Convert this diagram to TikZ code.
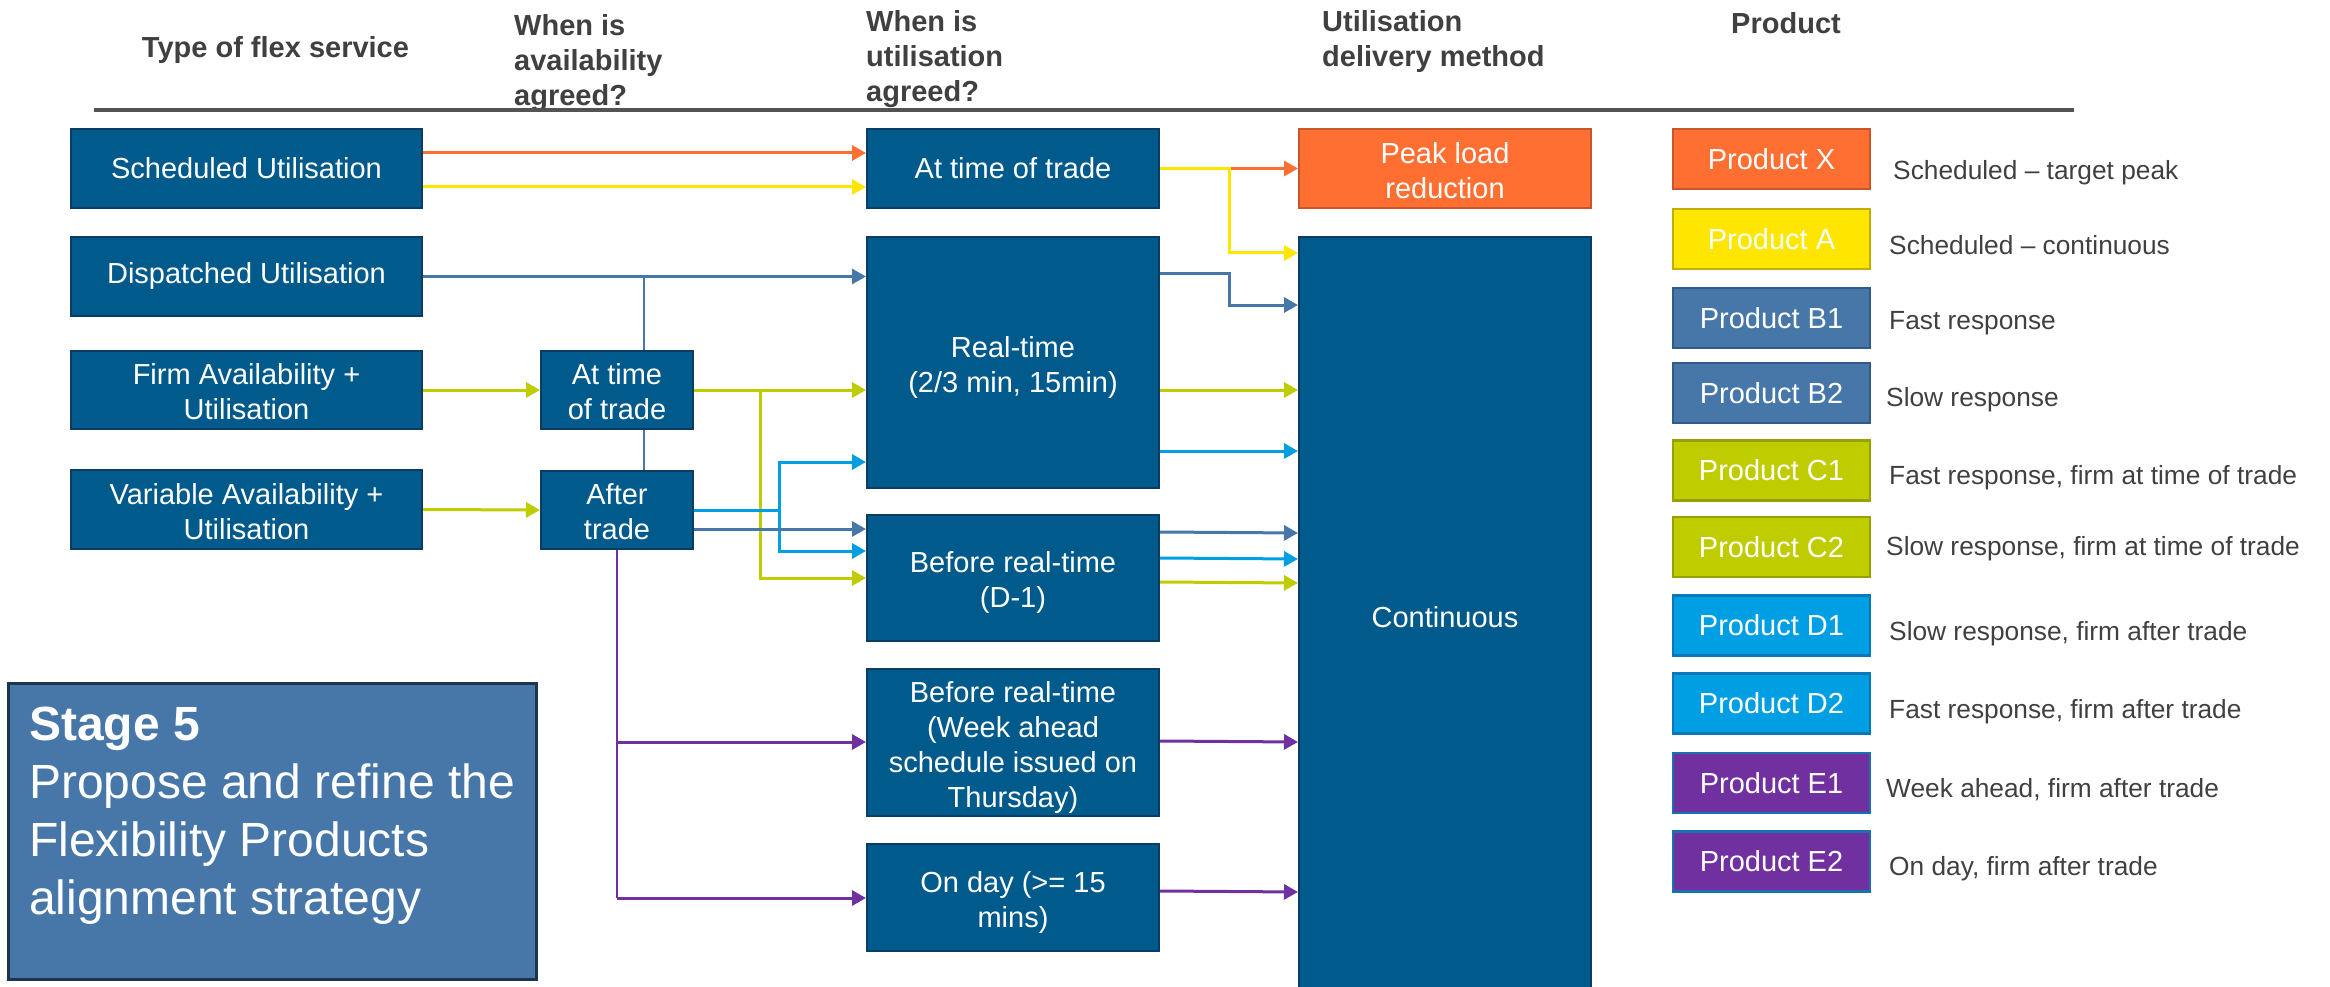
\documentclass[tikz,border=0pt]{standalone}
\usepackage{fontspec}
\setmainfont{Liberation Sans}
\usetikzlibrary{arrows.meta}
\definecolor{boxfill}{HTML}{005A8C}
\definecolor{boxline}{HTML}{0B3C63}
\definecolor{cOr}{HTML}{FF6F31}
\definecolor{cOrL}{HTML}{C8562A}
\definecolor{cYe}{HTML}{FFE600}
\definecolor{cYeL}{HTML}{C2AE00}
\definecolor{cB}{HTML}{4677A8}
\definecolor{cBL}{HTML}{2E5B88}
\definecolor{cC}{HTML}{BFCC00}
\definecolor{cCL}{HTML}{97A100}
\definecolor{cD}{HTML}{009FE3}
\definecolor{cDL}{HTML}{0A78B8}
\definecolor{cE}{HTML}{7030A0}
\definecolor{cEL}{HTML}{1A6FB0}
\definecolor{hdr}{HTML}{404040}
\definecolor{stageline}{HTML}{1E3550}
\newcommand{\topstrut}{\rule{0pt}{31pt}}
\newcommand{\botstrut}{\rule[-6.2pt]{0pt}{6.2pt}}
\begin{document}
\begin{tikzpicture}[x=1pt,y=-1pt,
  box/.style={draw=boxline, line width=2pt, fill=boxfill, text=white, align=center, inner sep=0pt, font=\fontsize{29}{35}\selectfont},
  prod/.style={line width=2.5pt, text=white, inner sep=0pt, minimum width=197pt, minimum height=60pt, font=\fontsize{29}{35}\selectfont},
  desc/.style={anchor=west, text=hdr, inner sep=0pt, font=\fontsize{26.3}{31}\selectfont},
  hd/.style={text=hdr, inner sep=0pt, font=\bfseries\fontsize{29}{35}\selectfont, align=left},
  arr/.style={line width=3pt, -{Triangle[length=14pt,width=15pt]}},
  thin/.style={line width=2pt},
  ]
\useasboundingbox (0,0) rectangle (2330,987);

% headers
\node[hd] (h1) at (275.5,50) {Type of flex service};
\node[hd, anchor=west] (h2) at (514,63.5) {When is\\availability\\agreed?};
\node[hd, anchor=west] (h3) at (866,59.5) {When is\\utilisation\\agreed?};
\node[hd, anchor=west] (h4) at (1322,41.5) {Utilisation\\delivery method};
\node[hd] (h5) at (1786,23) {Product};
\coordinate (hlA) at (94,110);
\coordinate (hlB) at (2074,110);
\draw[line width=4pt, color=hdr!90] (hlA) -- (hlB);

% left column
\node[box, minimum width=351pt, minimum height=79pt] (sched) at (246.5,168.5) {Scheduled Utilisation};
\node[box, minimum width=351pt, minimum height=79pt] (disp) at (246.5,276.5) {Dispatched Utilisation};
\node[box, minimum width=351pt, minimum height=78pt] (firm) at (246.5,390) {\topstrut Firm Availability +\\Utilisation\botstrut};
\node[box, minimum width=351pt, minimum height=79pt] (var) at (246.5,509.5) {\topstrut Variable Availability +\\Utilisation\botstrut};

% thin blue connector behind middle boxes
\draw[cB, thin] (644,276.5) -- (644,351);
\draw[cB, thin] (644,429) -- (644,471);

% middle column
\node[box, minimum width=152pt, minimum height=78pt] (atmid) at (617,390) {\topstrut At time\\of trade\botstrut};
\node[box, minimum width=152pt, minimum height=78pt] (after) at (617,510) {\topstrut After\\trade\botstrut};

% third column
\node[box, minimum width=292pt, minimum height=79pt] (attime) at (1013,168.5) {At time of trade};
\node[box, minimum width=292pt, minimum height=251pt] (realtime) at (1013,362.5) {\topstrut Real-time\\(2/3 min, 15min)\botstrut};
\node[box, minimum width=292pt, minimum height=126pt] (d1) at (1013,578) {\topstrut Before real-time\\(D-1)\botstrut};
\node[box, minimum width=292pt, minimum height=147pt] (week) at (1013,742.5) {\topstrut Before real-time\\(Week ahead\\schedule issued on\\Thursday)\botstrut};
\node[box, minimum width=292pt, minimum height=107pt] (onday) at (1013,897.5) {\topstrut On day (>= 15\\mins)\botstrut};

% fourth column
\node[box, draw=cOrL, fill=cOr, minimum width=292pt, minimum height=79pt] (peak) at (1445,168.5) {\topstrut Peak load\\reduction\botstrut};
\node[box, minimum width=292pt, minimum height=760pt] (cont) at (1445,617) {Continuous};

% products
\node[prod, draw=cOrL, fill=cOr] (pX) at (1771.5,159) {Product X};
\node[prod, draw=cYeL, fill=cYe] (pA) at (1771.5,239) {Product A};
\node[prod, draw=cBL, fill=cB] (pB1) at (1771.5,318) {Product B1};
\node[prod, draw=cBL, fill=cB] (pB2) at (1771.5,393) {Product B2};
\node[prod, draw=cCL, fill=cC] (pC1) at (1771.5,470.5) {Product C1};
\node[prod, draw=cCL, fill=cC] (pC2) at (1771.5,547) {Product C2};
\node[prod, draw=cDL, fill=cD] (pD1) at (1771.5,625.5) {Product D1};
\node[prod, draw=cDL, fill=cD] (pD2) at (1771.5,703.5) {Product D2};
\node[prod, draw=cEL, fill=cE] (pE1) at (1771.5,783) {Product E1};
\node[prod, draw=cEL, fill=cE] (pE2) at (1771.5,861.5) {Product E2};

\node[desc] (dX) at (1893,173) {Scheduled – target peak};
\node[desc] (dA) at (1889,245) {Scheduled – continuous};
\node[desc] (dB1) at (1889,323) {Fast response};
\node[desc] (dB2) at (1886,400) {Slow response};
\node[desc] (dC1) at (1889,478) {Fast response, firm at time of trade};
\node[desc] (dC2) at (1886,549) {Slow response, firm at time of trade};
\node[desc] (dD1) at (1889,634) {Slow response, firm after trade};
\node[desc] (dD2) at (1889,712) {Fast response, firm after trade};
\node[desc] (dE1) at (1886,790) {Week ahead, firm after trade};
\node[desc] (dE2) at (1889,869) {On day, firm after trade};

% stage box
\node[draw=stageline, line width=3pt, fill=cB, minimum width=528pt, minimum height=296pt] (stage) at (272,831) {};
\node[anchor=north west, text=white, align=left, inner sep=0pt, font=\fontsize{48}{58}\selectfont] (stagetxt) at (29,707) {\textbf{Stage 5}\\Propose and refine the\\Flexibility Products\\alignment strategy};

% connectors
\draw[arr, cOr] (sched.east |- 0,153) -- (attime.west |- 0,153);
\draw[arr, cYe] (sched.east |- 0,187) -- (attime.west |- 0,187);
\draw[arr, cB] (disp.east) -- (realtime.west |- disp.east);
\draw[arr, cOr] (attime.east) -- (peak.west);
\draw[arr, cYe] (attime.east) -- (1229,168.5) -- (1229,253) -- (cont.west |- 0,253);
\draw[arr, cB] (realtime.east |- 0,274) -- (1229,274) -- (1229,305) -- (cont.west |- 0,305);
\draw[arr, cC] (realtime.east |- 0,390) -- (cont.west |- 0,390);
\draw[arr, cD] (realtime.east |- 0,451) -- (cont.west |- 0,451);
\draw[arr, cC] (firm.east) -- (atmid.west);
\draw[arr, cC] (var.east) -- (after.west);
\draw[arr, cC] (atmid.east) -- (realtime.west |- atmid.east);
\draw[arr, cC] (760,390) -- (760,578) -- (d1.west |- 0,578);
\draw[line width=3pt, cD] (after.east |- 0,510) -- (779,510);
\draw[arr, cD] (779,510) -- (779,462) -- (realtime.west |- 0,462);
\draw[arr, cD] (779,510) -- (779,551) -- (d1.west |- 0,551);
\draw[arr, cB] (after.east |- 0,529) -- (d1.west |- 0,529);
\draw[arr, cB] (d1.east |- 0,532) -- (cont.west |- 0,533);
\draw[arr, cD] (d1.east |- 0,558) -- (cont.west |- 0,559);
\draw[arr, cC] (d1.east |- 0,582) -- (cont.west |- 0,583);
\draw[thin, cE] (after.south) -- (617,898);
\draw[arr, cE] (617,742) -- (week.west |- 0,742);
\draw[arr, cE] (617,898) -- (onday.west |- 0,898);
\draw[arr, cE] (week.east |- 0,741) -- (cont.west |- 0,742);
\draw[arr, cE] (onday.east |- 0,891) -- (cont.west |- 0,892);
\end{tikzpicture}
\end{document}
